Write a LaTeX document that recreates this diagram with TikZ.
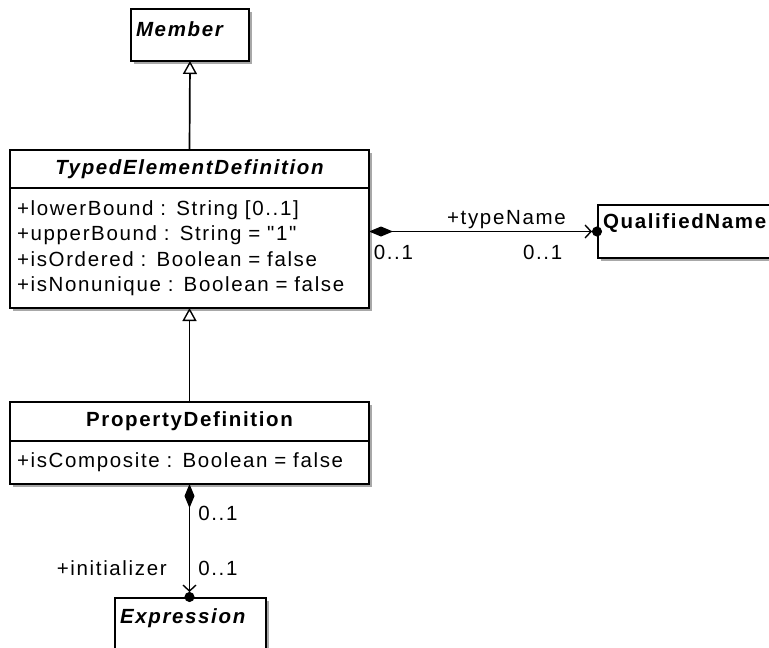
\documentclass[tikz,border=0pt]{standalone}
\usepackage{fontspec}
\setmainfont{Liberation Sans}
\newfontfamily\umlfont{Liberation Sans}[LetterSpace=8]
\usetikzlibrary{arrows.meta,positioning,shadows}
\definecolor{shade2}{HTML}{A8A8A8}

\tikzset{
  umlbox/.style={draw, line width=1.5pt, fill=white, outer sep=0pt,
    font=\umlfont\fontsize{20.5pt}{25.5pt}\selectfont,
    drop shadow={shadow xshift=3pt, shadow yshift=-3pt, fill=shade2, opacity=1}},
  umltitle/.style={umlbox, minimum width=359pt, inner sep=0pt},
  umlattr/.style={umlbox, text width=345pt, inner xsep=7pt, inner ysep=0pt, align=left},
  umlhead/.style={umlbox, inner xsep=5pt, inner ysep=7pt, align=left, anchor=north west},
  role/.style={font=\umlfont\fontsize{20.5pt}{25.5pt}\selectfont, inner sep=2pt},
  generalize/.style={line width=1.7pt, -{Triangle[open, length=13pt, width=14pt, fill=white, line width=1.4pt]}},
  composite/.style={line width=1.7pt,
    {Diamond[length=24pt, width=10pt, fill=black]}-{Straight Barb[length=6pt, width=13pt, line width=1.4pt] Circle[length=10pt, width=10pt, sep=-4pt]}}
}

\begin{document}
\begin{tikzpicture}[x=1pt, y=-1pt]
\clip (0,0) rectangle (769,648);

\node[umlhead, text width=108pt, text height=20pt, text depth=18pt] (member) at (131,9) {\bfseries\itshape Member};

\node[umltitle, minimum height=38pt, anchor=north west] (ted) at (10,150) {\bfseries\itshape TypedElementDefinition};
\node[umlattr, minimum height=120pt, below=0pt of ted] (tedattr) {+lowerBound : String [0..1]\\
+upperBound : String = "1"\\
+isOrdered : Boolean = false\\
+isNonunique : Boolean = false};

\node[umltitle, minimum height=39pt, anchor=north west] (pd) at (10,402) {\bfseries PropertyDefinition};
\node[umlattr, minimum height=43pt, below=0pt of pd] (pdattr) {+isComposite : Boolean = false};

\node[umlhead, text width=200pt, text height=16pt, text depth=23pt] (qn) at (598,205) {\bfseries QualifiedName};
\node[umlhead, text width=141pt, text height=18pt, text depth=20pt] (expr) at (115,598) {\bfseries\itshape Expression};

% inheritance
\draw[generalize] (ted.north) -- (member.south);
\draw[generalize] (pd.north) -- (tedattr.south);

% associations
\draw[composite] (tedattr.east |- qn.west) -- (qn.west)
  node[role, pos=0.6, above=0pt] {+typeName}
  node[role, pos=0, anchor=north west, xshift=2pt, yshift=-11pt] {0..1}
  node[role, pos=1, anchor=north east, xshift=-33pt, yshift=-11pt] {0..1};
\draw[composite] (pdattr.south) -- (pdattr.south |- expr.north)
  node[role, pos=0, anchor=north west, xshift=6pt, yshift=-19pt] {0..1}
  node[role, pos=1, anchor=south west, xshift=6pt, yshift=19pt] {0..1}
  node[role, pos=1, anchor=south east, xshift=-20pt, yshift=19pt] {+initializer};
\end{tikzpicture}
\end{document}
